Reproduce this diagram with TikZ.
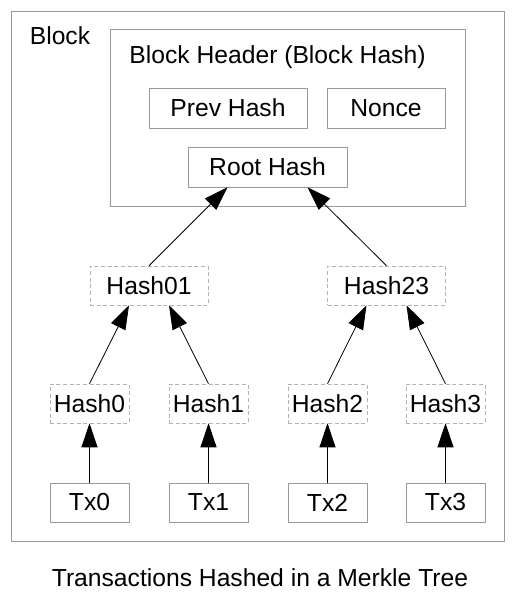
\documentclass[tikz,border=0pt]{standalone}
\usepackage{fontspec}
\setmainfont{Liberation Sans}
\usetikzlibrary{arrows.meta, positioning, calc}

\begin{document}
\begin{tikzpicture}[x=0.75pt, y=-0.75pt,
	box/.style={draw=black!40, inner sep=0pt},
	hashbox/.style={draw=black!30, dash pattern=on 3pt off 2pt, inner sep=0pt, minimum height=29.25pt},
	link/.style={-{Triangle[length=18pt, width=12pt]}, black, line width=0.6pt}]
	\fontsize{18.5}{22}\selectfont
	\useasboundingbox (0,0) rectangle (520,599);
	% block and its header
	\node at (257.5,276) [box, minimum width=369.75pt, minimum height=397.5pt] (block) {};
	\node at (60,36) (blockname) {Block};
	\node at (287.5,117.5) [box, minimum width=266.25pt, minimum height=132.75pt] (header) {};
	\node at (277.5,57) (headername) {Block Header (Block Hash)};
	\node at (228,108) [box, minimum width=118.5pt, minimum height=30pt] (prev) {Prev Hash};
	\node at (386,108) [box, minimum width=88.5pt, minimum height=30pt] (nonce) {Nonce};
	\node at (267.5,167) [box, minimum width=119.25pt, minimum height=30pt] (root) {Root Hash};
	% hash tree
	\node at (149,285.5) [hashbox, minimum width=88.5pt] (h01) {Hash01};
	\node at (386.5,285.5) [hashbox, minimum width=88.5pt] (h23) {Hash23};
	\node at (89.5,403.5) [hashbox, minimum width=59.25pt] (h0) {Hash0};
	\node at (208.5,403.5) [hashbox, minimum width=59.25pt] (h1) {Hash1};
	\node at (327.5,403.5) [hashbox, minimum width=59.25pt] (h2) {Hash2};
	\node at (445.5,403.5) [hashbox, minimum width=59.25pt] (h3) {Hash3};
	\node at (89.5,502.5) [box, minimum width=59.25pt, minimum height=29.25pt] (tx0) {Tx0};
	\node at (208.5,502.5) [box, minimum width=59.25pt, minimum height=29.25pt] (tx1) {Tx1};
	\node at (327.5,502.5) [box, minimum width=59.25pt, minimum height=29.25pt] (tx2) {Tx2};
	\node at (445.5,502.5) [box, minimum width=59.25pt, minimum height=29.25pt] (tx3) {Tx3};
	\draw[link] (tx0) -- (h0);
	\draw[link] (tx1) -- (h1);
	\draw[link] (tx2) -- (h2);
	\draw[link] (tx3) -- (h3);
	\draw[link] (h0.north) -- ($(h01.south)+(-20,0)$);
	\draw[link] (h1.north) -- ($(h01.south)+(20,0)$);
	\draw[link] (h2.north) -- ($(h23.south)+(-20,0)$);
	\draw[link] (h3.north) -- ($(h23.south)+(20,0)$);
	\draw[link] (h01.north) -- ($(root.south)+(-40,0)$);
	\draw[link] (h23.north) -- ($(root.south)+(40,0)$);
	\node at (260,578) (caption) {Transactions Hashed in a Merkle Tree};
\end{tikzpicture}
\end{document}
